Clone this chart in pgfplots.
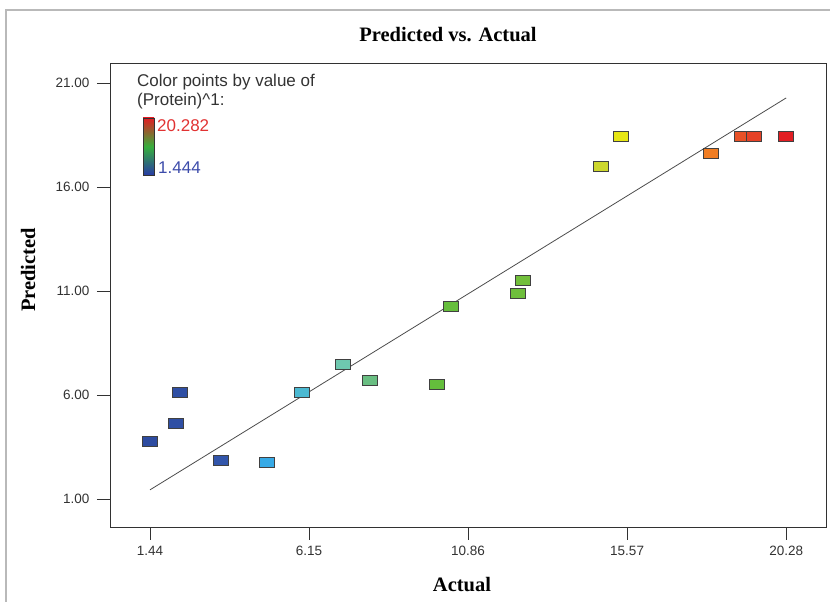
\documentclass[border=0pt]{standalone}
\usepackage{pgfplots}
\pgfplotsset{compat=1.18}
\usepackage{fontspec}
\setmainfont{Liberation Serif}
\setsansfont{Liberation Sans}
\definecolor{tickgray}{RGB}{50,50,50}
\definecolor{legred}{RGB}{225,50,50}
\definecolor{legblue}{RGB}{60,75,170}
\definecolor{cbred}{RGB}{225,30,35}
\definecolor{cbgreen}{RGB}{55,175,60}
\definecolor{cbblue}{RGB}{40,60,165}
\pgfdeclareplotmark{rect}{%
  \pgfpathrectangle{\pgfpoint{-7.5pt}{-5pt}}{\pgfpoint{15pt}{10pt}}%
  \pgfusepathqfillstroke}
\begin{document}
\begin{tikzpicture}
\useasboundingbox (0,0) rectangle (830pt,602pt);
\draw[gray!55, line width=1.5pt] (6pt,-5pt) -- (6pt,592pt) -- (840pt,592pt);
\begin{axis}[
  at={(110pt,75pt)}, anchor=south west,
  scale only axis, width=716pt, height=464pt,
  xmin=0.255, xmax=21.46, ymin=-0.346, ymax=21.96,
  axis line style={tickgray, line width=0.9pt},
  tick align=outside, major tick length=13pt,
  tick style={tickgray, line width=0.9pt},
  xtick pos=bottom, ytick pos=left,
  xtick={1.44,6.15,10.86,15.57,20.28},
  xticklabels={1.44,6.15,10.86,15.57,20.28},
  ytick={1,6,11,16,21},
  yticklabels={1.00,6.00,11.00,16.00,21.00},
  ticklabel style={font=\sffamily\fontsize{13.5}{15}\selectfont, text=tickgray},
  xticklabel style={yshift=-3pt},
  yticklabel style={xshift=-4pt},
  colormap={protein}{
    rgb255(144.4pt)=(45,75,160);
    rgb255(354pt)=(50,85,170);
    rgb255(491pt)=(55,170,230);
    rgb255(594pt)=(75,185,210);
    rgb255(716pt)=(110,200,175);
    rgb255(796pt)=(105,190,130);
    rgb255(994pt)=(100,190,60);
    rgb255(1240pt)=(110,190,60);
    rgb255(1480pt)=(205,215,45);
    rgb255(1539pt)=(230,230,20);
    rgb255(1806pt)=(240,125,35);
    rgb255(1910pt)=(230,75,40);
    rgb255(2028.2pt)=(225,30,35)
  },
  point meta min=1.444, point meta max=20.282,
  clip=false,
]
\addplot[black!70, line width=0.8pt] coordinates {(1.44,1.44) (20.28,20.28)};
\addplot[scatter, only marks, mark=rect, point meta=x,
  scatter/use mapped color={draw=black!75, fill=mapped color, line width=0.9pt}]
  coordinates {
  (1.44,3.79) (2.21,4.61) (2.33,6.14) (3.54,2.83) (4.91,2.78) (5.94,6.10)
  (7.16,7.49) (7.96,6.72) (9.94,6.53) (10.36,10.28) (12.34,10.90) (12.49,11.53)
  (14.80,17.01) (15.39,18.45) (18.06,17.59) (18.98,18.45) (19.33,18.45) (20.28,18.45)
  };
\end{axis}
% titles and labels
\node[font=\bfseries\fontsize{20.5}{22}\selectfont] at (448pt,567pt) {Predicted vs. Actual};
\node[font=\bfseries\fontsize{20.5}{22}\selectfont] at (462pt,17pt) {Actual};
\node[font=\bfseries\fontsize{20.5}{22}\selectfont, rotate=90] at (28pt,332pt) {Predicted};
% colour legend
\node[anchor=west, inner sep=0pt, font=\sffamily\fontsize{17}{19}\selectfont, text=black!80] at (137pt,520pt) {Color points by value of};
\node[anchor=west, inner sep=0pt, font=\sffamily\fontsize{17}{19}\selectfont, text=black!80] at (137pt,501pt) {(Protein)\^{}1:};
\shade[top color=cbred, bottom color=cbblue, middle color=cbgreen] (143pt,427pt) rectangle (154pt,484pt);
\draw[black!80, line width=0.9pt] (143pt,427pt) rectangle (154pt,484pt);
\node[anchor=west, inner sep=0pt, font=\sffamily\fontsize{17}{19}\selectfont, text=legred] at (157pt,476pt) {20.282};
\node[anchor=west, inner sep=0pt, font=\sffamily\fontsize{17}{19}\selectfont, text=legblue] at (158pt,434pt) {1.444};
\end{tikzpicture}
\end{document}
